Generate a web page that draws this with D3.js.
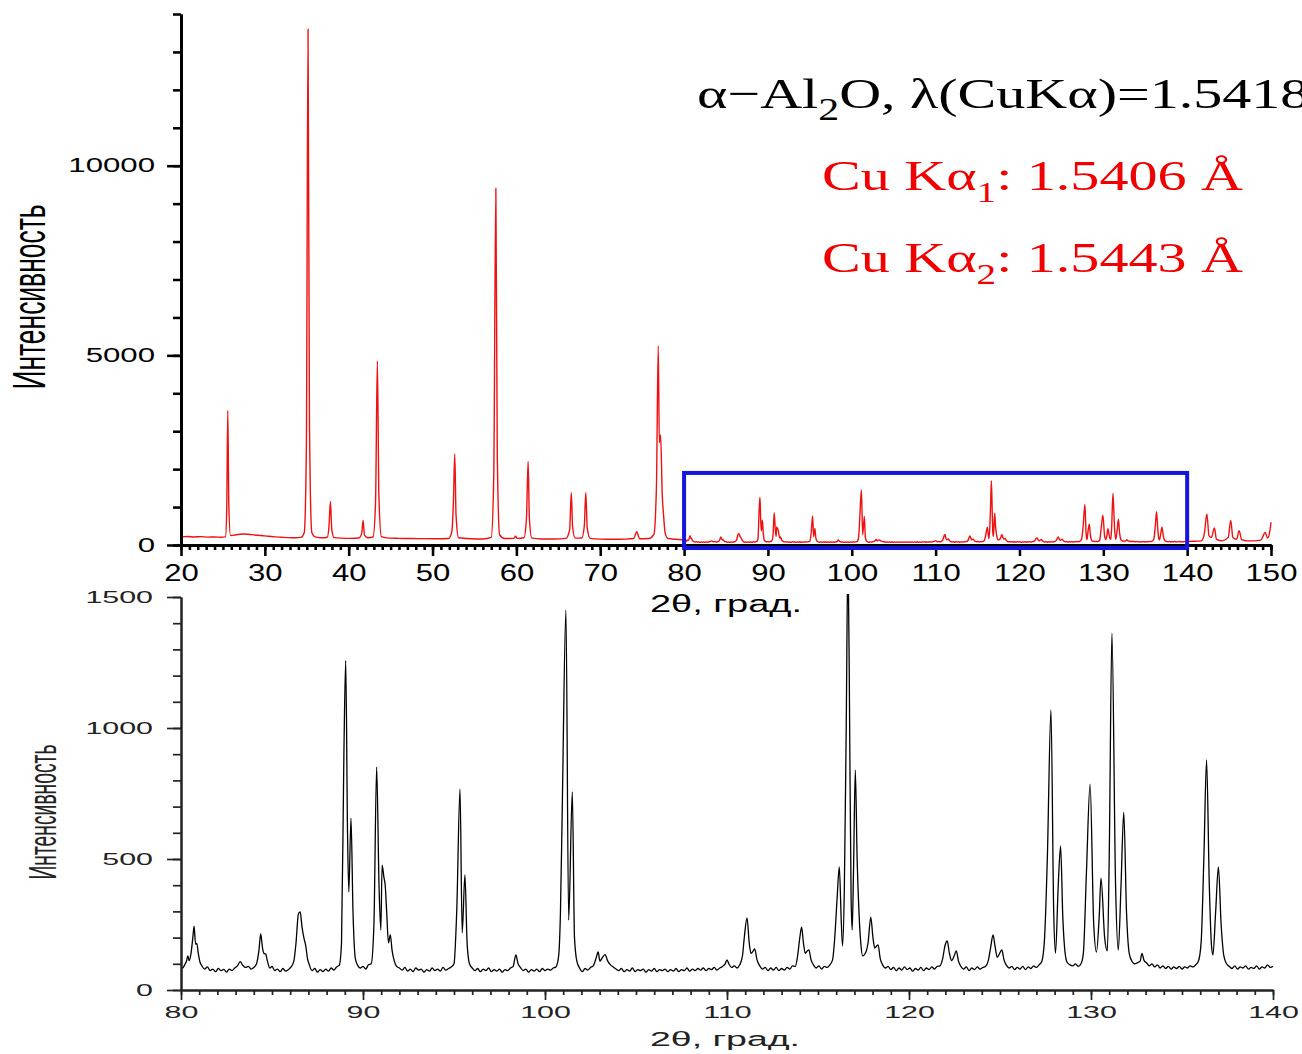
<!DOCTYPE html>
<html>
<head>
<meta charset="utf-8">
<script src="https://cdn.jsdelivr.net/npm/d3@7/dist/d3.min.js"></script>
<style>
  body { margin: 0; background: #fff; }
  svg { display: block; }
</style>
</head>
<body>
<script>
// full scan, 20..80 deg
const fullScanLow = [
  [20,215],[20.8,225],[21.6,212],[22.4,220],[23.2,208],[24,212],[24.8,205],[25.3,215],[25.45,900],[25.58,3550],
  [25.7,1100],[25.9,250],[26.5,265],[27.3,290],[28,285],[28.8,265],[29.6,250],[30.4,230],[31.2,215],[32,205],
  [32.8,195],[33.6,190],[34.3,200],[34.7,330],[34.95,2500],[35.15,13600],[35.32,3200],[35.6,330],[36,215],[36.8,190],
  [37.45,205],[37.65,500],[37.82,1150],[37.98,420],[38.25,195],[39.2,180],[40.2,175],[41.2,185],[41.55,300],[41.72,650],
  [41.88,260],[42.3,190],[42.9,210],[43.2,1100],[43.42,4850],[43.6,1300],[43.9,220],[44.8,180],[46,175],[47.5,170],
  [49,168],[50.5,165],[51.9,170],[52.3,350],[52.5,1200],[52.65,2400],[52.8,800],[53.1,190],[54.5,165],[56,160],
  [57,200],[57.3,1800],[57.55,9400],[57.72,2400],[58,270],[58.6,170],[59.7,175],[59.9,230],[60.1,175],[60.9,190],
  [61.2,700],[61.4,2200],[61.55,700],[61.85,180],[63,160],[64.5,158],[65.9,175],[66.35,400],[66.55,1380],[66.7,500],
  [67,180],[67.8,185],[68.1,500],[68.28,1380],[68.45,450],[68.8,175],[70,155],[71.5,150],[73,155],[74.0,170],
  [74.35,350],[74.7,165],[75.8,170],[76.4,280],[76.7,1500],[76.92,5250],[77.05,2700],[77.2,2900],[77.4,1300],[77.55,800],
  [77.75,300],[78.1,170],[79,150],[79.8,140]
];

// zoomed region 80..140 deg (black curve)
const zoomScan = [
  [80.0,90],[80.1,84],[80.2,96],[80.3,110],[80.38,130],[80.45,112],[80.55,140],[80.65,200],[80.72,244],[80.8,175],
  [80.87,178],[80.95,140],[81.05,105],[81.15,92],[81.3,80],[81.45,88],[81.6,74],[81.75,80],[81.9,70],[82.05,82],
  [82.2,74],[82.35,79],[82.5,68],[82.65,80],[82.8,74],[82.95,84],[83.1,92],[83.25,108],[83.4,94],[83.55,86],
  [83.7,90],[83.85,80],[84.0,86],[84.15,100],[84.28,150],[84.38,214],[84.48,160],[84.55,140],[84.65,138],[84.75,110],
  [84.88,84],[85.0,90],[85.15,74],[85.3,80],[85.45,70],[85.6,82],[85.75,72],[85.9,78],[86.05,88],[86.2,110],
  [86.32,180],[86.45,290],[86.55,298],[86.65,240],[86.75,200],[86.85,170],[86.95,120],[87.05,96],[87.2,74],[87.35,82],
  [87.5,68],[87.65,78],[87.8,70],[87.95,80],[88.1,72],[88.25,84],[88.4,76],[88.55,88],[88.7,95],[88.82,180],
  [88.95,900],[89.05,1257],[89.15,600],[89.22,374],[89.34,656],[89.45,300],[89.58,120],[89.7,95],[89.85,84],[90.0,90],
  [90.15,80],[90.3,96],[90.45,100],[90.6,250],[90.75,851],[90.88,400],[90.98,229],[91.05,477],[91.15,430],[91.22,400],
  [91.3,300],[91.4,180],[91.5,210],[91.6,150],[91.72,110],[91.85,90],[92.0,84],[92.15,76],[92.3,86],[92.45,72],
  [92.6,80],[92.75,70],[92.9,84],[93.05,76],[93.2,80],[93.35,68],[93.5,78],[93.65,72],[93.8,84],[93.95,74],
  [94.1,80],[94.25,72],[94.4,86],[94.55,76],[94.7,82],[94.85,88],[95.0,100],[95.15,300],[95.33,767],[95.45,218],
  [95.6,439],[95.72,180],[95.85,100],[96.0,84],[96.15,74],[96.3,82],[96.45,70],[96.6,80],[96.75,74],[96.9,84],
  [97.05,70],[97.2,78],[97.35,72],[97.5,80],[97.65,68],[97.8,78],[97.95,74],[98.1,84],[98.25,90],[98.4,134],
  [98.52,100],[98.65,86],[98.8,74],[98.95,80],[99.1,68],[99.25,78],[99.4,72],[99.55,80],[99.7,70],[99.85,82],
  [100.0,74],[100.15,80],[100.3,76],[100.45,84],[100.6,88],[100.75,130],[100.85,300],[100.95,700],[101.15,1450],[101.3,267],
  [101.5,756],[101.62,200],[101.75,110],[101.9,84],[102.05,70],[102.2,82],[102.35,76],[102.5,86],[102.65,92],[102.8,120],
  [102.92,145],[103.02,110],[103.12,120],[103.3,135],[103.45,110],[103.6,96],[103.75,88],[103.9,80],[104.05,74],[104.2,82],
  [104.35,70],[104.5,78],[104.65,72],[104.8,84],[104.95,70],[105.1,78],[105.25,74],[105.4,80],[105.55,68],[105.7,78],
  [105.85,72],[106.0,82],[106.15,70],[106.3,78],[106.45,74],[106.6,80],[106.75,70],[106.9,78],[107.05,72],[107.2,82],
  [107.35,70],[107.5,78],[107.65,74],[107.8,84],[107.95,72],[108.1,80],[108.25,74],[108.4,82],[108.55,76],[108.7,84],
  [108.85,74],[109.0,82],[109.15,78],[109.3,86],[109.45,76],[109.6,84],[109.75,90],[109.9,100],[110.0,115],[110.1,100],
  [110.25,86],[110.4,92],[110.55,84],[110.7,96],[110.85,130],[110.95,200],[111.1,275],[111.22,180],[111.32,140],[111.45,150],
  [111.52,157],[111.65,115],[111.8,92],[111.95,80],[112.1,86],[112.25,74],[112.4,84],[112.55,76],[112.7,86],[112.85,74],
  [113.0,82],[113.15,76],[113.3,86],[113.45,80],[113.6,92],[113.75,90],[113.88,130],[114.0,200],[114.1,240],[114.2,180],
  [114.3,140],[114.42,150],[114.5,153],[114.62,115],[114.75,96],[114.9,84],[115.05,92],[115.2,80],[115.35,90],[115.5,86],
  [115.65,96],[115.8,115],[115.92,200],[116.05,350],[116.17,470],[116.28,260],[116.35,168],[116.45,400],[116.55,1000],[116.65,1690],
  [116.75,900],[116.82,350],[116.88,229],[116.95,450],[117.05,840],[117.15,500],[117.25,300],[117.35,180],[117.45,130],[117.6,140],
  [117.75,180],[117.9,278],[118.02,200],[118.12,160],[118.22,168],[118.3,172],[118.42,120],[118.55,96],[118.7,84],[118.85,90],
  [119.0,78],[119.15,86],[119.3,74],[119.45,84],[119.6,76],[119.75,88],[119.9,78],[120.05,84],[120.2,72],[120.35,82],
  [120.5,76],[120.65,86],[120.8,74],[120.95,84],[121.1,78],[121.25,88],[121.4,80],[121.55,90],[121.7,92],[121.85,120],
  [121.98,170],[122.1,187],[122.22,140],[122.35,112],[122.48,130],[122.6,149],[122.72,110],[122.85,90],[123.0,80],[123.15,88],
  [123.3,74],[123.45,84],[123.6,78],[123.75,88],[123.9,80],[124.05,86],[124.2,90],[124.35,110],[124.48,160],[124.62,210],
  [124.72,170],[124.85,125],[124.98,140],[125.1,153],[125.22,115],[125.35,95],[125.5,84],[125.65,90],[125.8,78],[125.95,86],
  [126.1,80],[126.25,90],[126.4,78],[126.55,88],[126.7,82],[126.85,92],[127.0,86],[127.15,96],[127.3,110],[127.45,200],
  [127.6,500],[127.8,1069],[127.95,300],[128.05,141],[128.2,400],[128.33,550],[128.45,280],[128.58,140],[128.7,104],[128.85,96],
  [129.0,92],[129.15,100],[129.3,90],[129.45,100],[129.58,140],[129.75,450],[129.95,786],[130.15,250],[130.3,145],[130.45,280],
  [130.55,427],[130.75,200],[130.9,149],[131.0,500],[131.15,1362],[131.35,400],[131.5,152],[131.65,400],[131.8,679],[131.95,300],
  [132.1,140],[132.25,110],[132.4,100],[132.55,104],[132.7,110],[132.8,140],[132.92,112],[133.05,104],[133.2,92],[133.35,100],
  [133.5,88],[133.65,96],[133.8,84],[133.95,92],[134.1,82],[134.25,90],[134.4,80],[134.55,88],[134.7,82],[134.85,90],
  [135.0,80],[135.15,88],[135.3,84],[135.45,92],[135.6,88],[135.75,96],[135.9,110],[136.05,180],[136.2,500],[136.35,878],
  [136.5,400],[136.62,170],[136.7,134],[136.85,300],[137.0,470],[137.15,250],[137.3,130],[137.45,100],[137.6,90],[137.75,82],
  [137.9,92],[138.05,80],[138.2,88],[138.35,84],[138.5,92],[138.65,80],[138.8,86],[138.95,82],[139.1,92],[139.25,80],
  [139.4,88],[139.55,84],[139.7,96],[139.85,86],[140.0,90]
];

// full scan tail 140..150 deg
const fullScanHigh = [
  [140.3,95],[141,100],[141.7,110],[142.05,300],[142.35,820],[142.6,250],[142.9,200],[143.25,450],[143.5,150],[144.2,110],
  [144.9,200],[145.2,650],[145.45,200],[145.9,150],[146.2,380],[146.5,140],[147.2,110],[148,110],[148.8,130],[149.3,330],
  [149.6,180],[149.85,350],[150,600]
];

const topXTicks = [20, 30, 40, 50, 60, 70, 80, 90, 100, 110, 120, 130, 140, 150];
const topYTicks = [0, 5000, 10000];
const botXTicks = [80, 90, 100, 110, 120, 130, 140];
const botYTicks = [0, 500, 1000, 1500];
const zoomWindow = [80, 140];
const zoomBoxIntensity = [-80, 1900];

const width = 1302, height = 1054;
const sans = "'Liberation Sans', Arial, sans-serif";
const serif = "'Liberation Serif', 'Times New Roman', Times, serif";
const plain = d3.format("d");

const svg = d3.select("body").append("svg")
    .attr("width", width)
    .attr("height", height)

const xTop = d3.scaleLinear().domain([20, 150]).range([181, 1271])
const yTop = d3.scaleLinear().domain([0, 14000]).range([545, 14])
const xBot = d3.scaleLinear().domain([80, 140]).range([181, 1273])
const yBot = d3.scaleLinear().domain([0, 1500]).range([990, 597])

// ---------- top panel ----------
const topData = fullScanLow.concat(zoomScan, fullScanHigh)

svg.append("path")
    .datum(topData)
    .attr("fill", "none")
    .attr("stroke", "#f01010")
    .attr("stroke-width", 1.4)
    .attr("d", d3.line().x(d => xTop(d[0])).y(d => yTop(d[1])).curve(d3.curveMonotoneX))

function styleAxis(g, w, color) {
    g.select(".domain").attr("stroke", color).attr("stroke-width", w)
    g.selectAll(".tick line").attr("stroke", color).attr("stroke-width", w * 0.85)
}

// minor / major ticks of the top y axis
const gTyMinor = svg.append("g").attr("transform", "translate(181,0)")
    .call(d3.axisLeft(yTop).tickValues(d3.range(0, 14001, 1000)).tickSize(8).tickSizeOuter(0).tickFormat(""))
styleAxis(gTyMinor, 3, "#000")
const gTy = svg.append("g").attr("transform", "translate(181,0)")
    .call(d3.axisLeft(yTop).tickValues(topYTicks).tickSize(14).tickSizeOuter(0).tickFormat(plain))
styleAxis(gTy, 3, "#000")
gTy.selectAll("text")
    .attr("font-family", sans).attr("font-size", 19.5).attr("fill", "#000")
    .attr("x", -26 / 1.6).attr("transform", "scale(1.6,1)")

const gTxMinor = svg.append("g").attr("transform", "translate(0,545)")
    .call(d3.axisBottom(xTop).tickValues(d3.range(20, 151, 1)).tickSize(5).tickSizeOuter(0).tickFormat(""))
styleAxis(gTxMinor, 3, "#000")
const gTx = svg.append("g").attr("transform", "translate(0,545)")
    .call(d3.axisBottom(xTop).tickValues(topXTicks).tickSize(11).tickSizeOuter(0).tickFormat(plain))
styleAxis(gTx, 3, "#000")
gTx.selectAll("text")
    .attr("font-family", sans).attr("font-size", 23).attr("fill", "#000")
    .attr("y", 20).attr("transform", "scale(1.35,1)")

// blue zoom frame
svg.append("rect")
    .attr("x", xTop(zoomWindow[0]))
    .attr("y", yTop(zoomBoxIntensity[1]))
    .attr("width", xTop(zoomWindow[1]) - xTop(zoomWindow[0]))
    .attr("height", yTop(zoomBoxIntensity[0]) - yTop(zoomBoxIntensity[1]))
    .attr("fill", "none")
    .attr("stroke", "#1515e0")
    .attr("stroke-width", 4)

svg.append("text")
    .attr("x", 726).attr("y", 612)
    .attr("text-anchor", "middle")
    .attr("font-family", sans).attr("font-size", 23)
    .attr("textLength", 152).attr("lengthAdjust", "spacingAndGlyphs")
    .text("2θ, град.")

svg.append("text")
    .attr("transform", "translate(45,297) rotate(-90)")
    .attr("text-anchor", "middle")
    .attr("font-family", sans).attr("font-size", 46)
    .attr("textLength", 185).attr("lengthAdjust", "spacingAndGlyphs")
    .text("Интенсивность")

// annotation text (the first line runs past the right edge, as in the source figure)
const red1 = svg.append("text").attr("font-family", serif).attr("font-size", 43).attr("fill", "#f00000")
red1.append("tspan").text("Cu Kα")
red1.append("tspan").attr("font-size", 29).attr("dy", 12).text("1")
red1.append("tspan").attr("dy", -12).text(": 1.5406 Å")
const sx = 421 / red1.node().getBBox().width
red1.attr("transform", `translate(822,190) scale(${sx},1)`)

const red2 = svg.append("text").attr("font-family", serif).attr("font-size", 43).attr("fill", "#f00000")
    .attr("transform", `translate(822,272) scale(${sx},1)`)
red2.append("tspan").text("Cu Kα")
red2.append("tspan").attr("font-size", 29).attr("dy", 12).text("2")
red2.append("tspan").attr("dy", -12).text(": 1.5443 Å")

const title = svg.append("text").attr("font-family", serif).attr("font-size", 43).attr("fill", "#000")
    .attr("transform", `translate(697,108) scale(${sx},1)`)
title.append("tspan").text("α−Al")
title.append("tspan").attr("font-size", 31).attr("dy", 12).text("2")
title.append("tspan").attr("dy", -12).text("O, λ(CuKα)=1.5418")

// ---------- bottom panel ----------
svg.append("clipPath").attr("id", "botClip")
    .append("rect").attr("x", 181).attr("y", 594).attr("width", 1100).attr("height", 400)

svg.append("path")
    .datum(zoomScan)
    .attr("clip-path", "url(#botClip)")
    .attr("fill", "none")
    .attr("stroke", "#000")
    .attr("stroke-width", 1.3)
    .attr("d", d3.line().x(d => xBot(d[0])).y(d => yBot(d[1])).curve(d3.curveMonotoneX))

const gByMinor = svg.append("g").attr("transform", "translate(181,0)")
    .call(d3.axisLeft(yBot).tickValues(d3.range(0, 1501, 100)).tickSize(8).tickSizeOuter(0).tickFormat(""))
styleAxis(gByMinor, 2, "#222")
const gBy = svg.append("g").attr("transform", "translate(181,0)")
    .call(d3.axisLeft(yBot).tickValues(botYTicks).tickSize(14).tickSizeOuter(0).tickFormat(plain))
styleAxis(gBy, 2, "#222")
gBy.selectAll("text")
    .attr("font-family", sans).attr("font-size", 16).attr("fill", "#222")
    .attr("x", -28 / 1.9).attr("transform", "scale(1.9,1)")

const gBxMinor = svg.append("g").attr("transform", "translate(0,990)")
    .call(d3.axisBottom(xBot).tickValues(d3.range(80, 141, 1)).tickSize(5).tickSizeOuter(0).tickFormat(""))
styleAxis(gBxMinor, 2, "#222")
const gBx = svg.append("g").attr("transform", "translate(0,990)")
    .call(d3.axisBottom(xBot).tickValues(botXTicks).tickSize(10).tickSizeOuter(0).tickFormat(plain))
styleAxis(gBx, 2, "#222")
gBx.selectAll("text")
    .attr("font-family", sans).attr("font-size", 16).attr("fill", "#222")
    .attr("y", 17).attr("transform", "scale(1.9,1)")

svg.append("text")
    .attr("x", 725).attr("y", 1046)
    .attr("text-anchor", "middle")
    .attr("font-family", sans).attr("font-size", 20).attr("fill", "#222")
    .attr("textLength", 150).attr("lengthAdjust", "spacingAndGlyphs")
    .text("2θ, град.")

svg.append("text")
    .attr("transform", "translate(56,812) rotate(-90)")
    .attr("text-anchor", "middle")
    .attr("font-family", sans).attr("font-size", 38).attr("fill", "#222")
    .attr("textLength", 135).attr("lengthAdjust", "spacingAndGlyphs")
    .text("Интенсивность")
</script>
</body>
</html>
